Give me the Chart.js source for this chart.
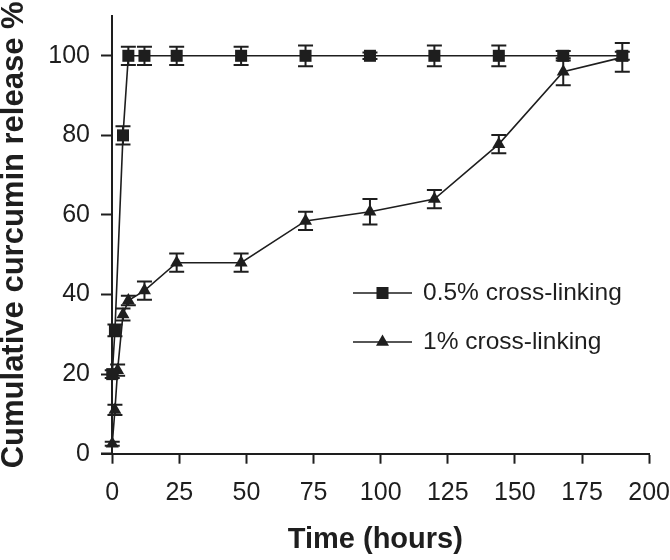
<!DOCTYPE html>
<html>
<head>
<meta charset="utf-8">
<title>Cumulative curcumin release</title>
<script src="https://cdn.jsdelivr.net/npm/chart.js@4.4.1/dist/chart.umd.min.js"></script>
<style>
  html, body { margin: 0; padding: 0; background: #fff; }
  #wrap { width: 670px; height: 560px; }
</style>
</head>
<body>
<div id="wrap"><canvas id="releaseChart" width="670" height="560"></canvas></div>
<script>
// Values: time (hours), cumulative release (%), +/- error
const timeLow = [0, 1, 4, 6, 12, 24, 48, 72, 96, 120, 144, 168, 190];
const releaseLow = [20, 31, 80, 100, 100, 100, 100, 100, 100, 100, 100, 100, 100];
const errorLow = [1, 1.5, 2.3, 2.3, 2.3, 2.3, 2.3, 2.6, 0.8, 2.6, 2.6, 1.2, 1];

const timeHigh = [0, 1, 2, 4, 6, 12, 24, 48, 72, 96, 120, 144, 168, 190];
const releaseHigh = [2.5, 11, 21, 35, 38.5, 41, 48, 48, 58.5, 60.8, 64, 77.8, 96, 99.6];
const errorHigh = [0.5, 1.3, 1.4, 1.5, 1.2, 2.3, 2.3, 2.3, 2.3, 3.2, 2.3, 2.3, 3.4, 3.6];

const seriesLabels = ['0.5% cross-linking', '1% cross-linking'];
const xTicks = [0, 25, 50, 75, 100, 125, 150, 175, 200];
const yTicks = [0, 20, 40, 60, 80, 100];

const ink = '#1e1e1e';
const fontFamily = '"Liberation Sans", Arial, Helvetica, sans-serif';

function toPoints(xs, ys) {
  return xs.map((x, i) => ({ x: x, y: ys[i] }));
}

function drawMarker(ctx, style, x, y, r) {
  ctx.beginPath();
  if (style === 'rect') {
    const s = r * Math.SQRT1_2;
    ctx.rect(x - s, y - s, 2 * s, 2 * s);
  } else {
    const a = Math.PI * 2 / 3;
    ctx.moveTo(x, y - r);
    ctx.lineTo(x + Math.sin(a) * r, y - Math.cos(a) * r);
    ctx.lineTo(x + Math.sin(2 * a) * r, y - Math.cos(2 * a) * r);
    ctx.closePath();
  }
  ctx.fill();
}

// Error bars go under the markers
const errorBars = {
  id: 'errorBars',
  beforeDatasetsDraw(chart) {
    const ctx = chart.ctx;
    const xs = chart.scales.x;
    const ys = chart.scales.y;
    ctx.save();
    ctx.strokeStyle = ink;
    ctx.lineWidth = 2;
    chart.data.datasets.forEach(ds => {
      ds.data.forEach((p, i) => {
        const err = ds.errors[i];
        const px = xs.getPixelForValue(p.x);
        const top = ys.getPixelForValue(p.y + err);
        const bot = ys.getPixelForValue(p.y - err);
        ctx.beginPath();
        ctx.moveTo(px, top);
        ctx.lineTo(px, bot);
        ctx.moveTo(px - 7.5, top);
        ctx.lineTo(px + 7.5, top);
        ctx.moveTo(px - 7.5, bot);
        ctx.lineTo(px + 7.5, bot);
        ctx.stroke();
      });
    });
    ctx.restore();
  }
};

// Legend drawn inside the plot: line with marker, then label
const insideLegend = {
  id: 'insideLegend',
  afterDraw(chart, args, opts) {
    const ctx = chart.ctx;
    ctx.save();
    ctx.font = opts.fontSize + 'px ' + fontFamily;
    ctx.textBaseline = 'middle';
    ctx.textAlign = 'left';
    chart.data.datasets.forEach((ds, i) => {
      const y = opts.top + i * opts.rowGap;
      ctx.strokeStyle = ds.borderColor;
      ctx.lineWidth = ds.borderWidth;
      ctx.beginPath();
      ctx.moveTo(opts.left, y);
      ctx.lineTo(opts.left + opts.lineLength, y);
      ctx.stroke();
      ctx.fillStyle = ds.pointBackgroundColor;
      drawMarker(ctx, ds.pointStyle, opts.left + opts.lineLength / 2, y, ds.pointRadius);
      ctx.fillStyle = ink;
      ctx.fillText(ds.label, opts.left + opts.lineLength + opts.textGap, y);
    });
    ctx.restore();
  }
};

const ctx = document.getElementById('releaseChart').getContext('2d');
new Chart(ctx, {
  type: 'line',
  data: {
    datasets: [{
      label: seriesLabels[0],
      data: toPoints(timeLow, releaseLow),
      errors: errorLow,
      borderColor: ink,
      borderWidth: 1.6,
      pointStyle: 'rect',
      pointRadius: 8.5,
      pointBackgroundColor: ink,
      pointBorderWidth: 0,
      tension: 0,
      clip: false
    }, {
      label: seriesLabels[1],
      data: toPoints(timeHigh, releaseHigh),
      errors: errorHigh,
      borderColor: ink,
      borderWidth: 1.6,
      pointStyle: 'triangle',
      pointRadius: 7.5,
      pointBackgroundColor: ink,
      pointBorderWidth: 0,
      tension: 0,
      clip: false
    }]
  },
  options: {
    responsive: false,
    devicePixelRatio: 1,
    animation: false,
    layout: { padding: { top: 16, right: 19, left: 0, bottom: 0 } },
    plugins: {
      legend: { display: false },
      tooltip: { enabled: false },
      insideLegend: { left: 353, top: 293, rowGap: 49, lineLength: 59, textGap: 11, fontSize: 24.5 }
    },
    scales: {
      x: {
        type: 'linear',
        min: -4,
        max: 200,
        afterBuildTicks: s => { s.ticks = xTicks.map(v => ({ value: v })); },
        grid: { drawOnChartArea: false, tickLength: 10, tickWidth: 2, tickColor: ink },
        border: { color: ink, width: 2 },
        ticks: { color: ink, padding: 0, maxRotation: 0, font: { family: fontFamily, size: 25, lineHeight: 2.38 } },
        title: {
          display: true,
          text: 'Time (hours)',
          color: ink,
          font: { family: fontFamily, size: 29, weight: 'bold' },
          padding: { top: -1, bottom: 3 }
        }
      },
      // axis line and tick marks sit at x = 0
      y: {
        type: 'linear',
        axis: 'y',
        position: { x: 0 },
        min: 0,
        max: 110,
        afterBuildTicks: s => { s.ticks = yTicks.map(v => ({ value: v })); },
        grid: { drawOnChartArea: false, tickLength: 10, tickWidth: 2, tickColor: ink },
        border: { color: ink, width: 2 },
        ticks: { display: false }
      },
      // tick labels and rotated title on the left edge
      yLabels: {
        type: 'linear',
        axis: 'y',
        position: 'left',
        min: 0,
        max: 110,
        afterBuildTicks: s => { s.ticks = yTicks.map(v => ({ value: v })); },
        grid: { drawOnChartArea: false, tickLength: 11.5, tickColor: 'transparent' },
        border: { display: false },
        ticks: { color: ink, padding: 0, font: { family: fontFamily, size: 25 } },
        title: {
          display: true,
          text: 'Cumulative curcumin release %',
          color: ink,
          font: { family: fontFamily, size: 31, weight: 'bold' },
          padding: { top: -4, bottom: 15.1 }
        }
      }
    }
  },
  plugins: [errorBars, insideLegend]
});
</script>
</body>
</html>
